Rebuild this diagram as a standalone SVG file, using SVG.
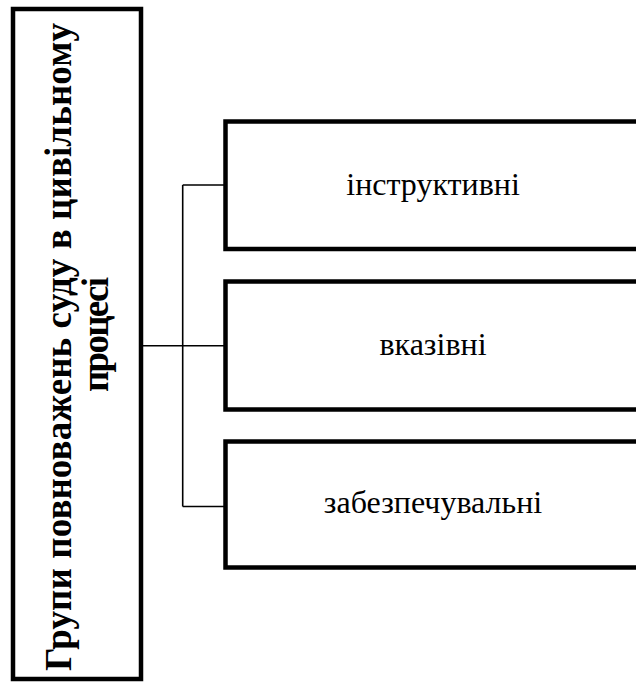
<svg xmlns="http://www.w3.org/2000/svg" width="636" height="682" viewBox="0 0 636 682">
<style>
.box{fill:#fff;stroke:#000;stroke-width:4.5}
.conn{fill:none;stroke:#000;stroke-width:1.6}
.title{font-family:'Liberation Serif','Tinos','DejaVu Serif',serif;font-weight:bold;font-size:37px;fill:#000;text-anchor:middle}
.lbl{font-family:'Liberation Serif','Tinos','DejaVu Serif',serif;font-size:32px;fill:#000;text-anchor:middle}
</style>
<rect width="636" height="682" fill="#fff"/>
<g id="connectors">
<path class="conn" d="M143,345.7 H224 M182.7,185 V506.5 M182.7,185 H224 M182.7,506.5 H224"/>
</g>
<g id="root">
<rect class="box" x="13" y="9" width="128" height="670"/>
<text class="title" transform="translate(71,347) rotate(-90)" textLength="648" lengthAdjust="spacing">Групи повноважень суду в цивільному</text>
<text class="title" transform="translate(108,334.5) rotate(-90)" textLength="115" lengthAdjust="spacing">процесі</text>
</g>
<g id="node1">
<rect class="box" x="225.5" y="121.5" width="440" height="127.5"/>
<text class="lbl" x="433" y="195">інструктивні</text>
</g>
<g id="node2">
<rect class="box" x="225.5" y="281.5" width="440" height="128"/>
<text class="lbl" x="433" y="355">вказівні</text>
</g>
<g id="node3">
<rect class="box" x="225.5" y="441.5" width="440" height="126"/>
<text class="lbl" x="433" y="513">забезпечувальні</text>
</g>
</svg>
